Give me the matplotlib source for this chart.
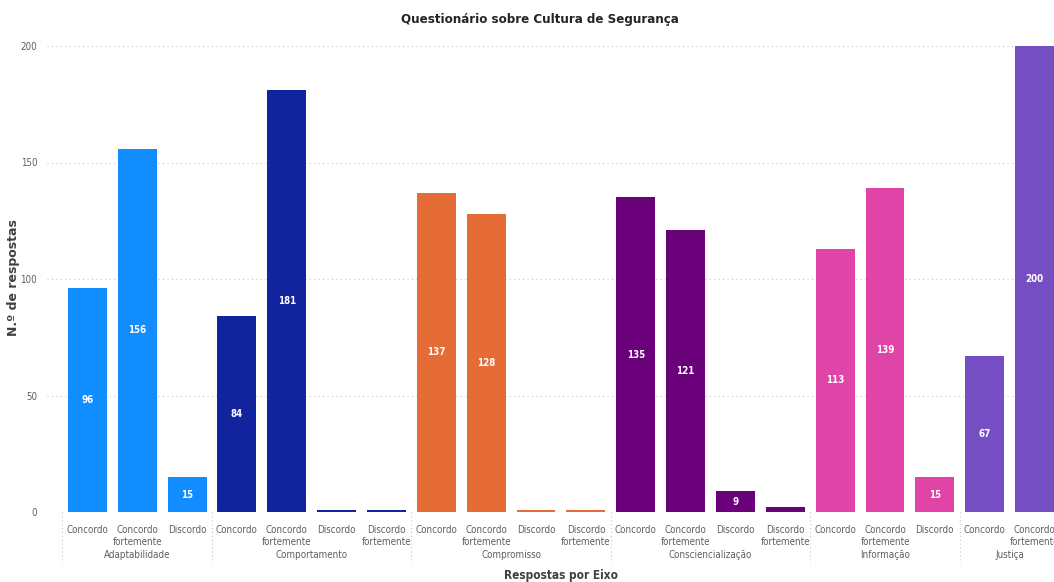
import matplotlib
matplotlib.use("Agg")
import matplotlib.pyplot as plt
import matplotlib.transforms as mtransforms

# Eixos do questionário e respostas em cada eixo
eixos = ["Adaptabilidade", "Comportamento", "Compromisso",
         "Consciencialização", "Informação", "Justiça"]
respostas = [
    ["Concordo", "Concordo\nfortemente", "Discordo"],
    ["Concordo", "Concordo\nfortemente", "Discordo", "Discordo\nfortemente"],
    ["Concordo", "Concordo\nfortemente", "Discordo", "Discordo\nfortemente"],
    ["Concordo", "Concordo\nfortemente", "Discordo", "Discordo\nfortemente"],
    ["Concordo", "Concordo\nfortemente", "Discordo"],
    ["Concordo", "Concordo\nfortemente"],
]
valores = [
    [96, 156, 15],
    [84, 181, 1, 1],
    [137, 128, 1, 1],
    [135, 121, 9, 2],
    [113, 139, 15],
    [67, 200],
]
cores = ["#118DFF", "#12239E", "#E66C37", "#6B007B", "#E044A7", "#744EC2"]

plt.rcParams["font.family"] = ["DejaVu Sans"]
plt.rcParams["font.stretch"] = "condensed"

fig = plt.figure(figsize=(10.54, 5.82), dpi=100)
ax = fig.add_axes([47 / 1054, 70 / 582, 1007 / 1054, 466 / 582])

trans = mtransforms.blended_transform_factory(ax.transData, ax.transAxes)
pos = 0
limites = [-0.5]
for eixo, resp, vals, cor in zip(eixos, respostas, valores, cores):
    xs = list(range(pos, pos + len(vals)))
    ax.bar(xs, vals, width=0.78, color=cor, zorder=3)
    for x, v, r in zip(xs, vals, resp):
        if v > 2:
            ax.text(x, v / 2, str(v), ha="center", va="center", color="white",
                    fontsize=7, fontweight="bold", zorder=4)
        ax.text(x, -0.028, r, transform=trans, ha="center", va="top",
                fontsize=7, color="#605E5C", linespacing=1.25)
    centro = (xs[0] + xs[-1]) / 2
    ax.text(centro, -0.082, eixo, transform=trans, ha="center", va="top",
            fontsize=7, color="#605E5C")
    pos += len(vals)
    limites.append(pos - 0.5)

# separadores verticais entre eixos
for b in limites[:-1]:
    ax.plot([b, b], [0, -0.11], transform=trans, clip_on=False,
            color="#C8C6C4", linestyle=(0, (1, 2.5)), linewidth=0.8)

ax.set_xlim(-0.81, 19.39)
ax.set_ylim(0, 200)
ax.set_yticks([0, 50, 100, 150, 200])
ax.set_xticks([])
ax.tick_params(axis="y", length=0, labelsize=7, labelcolor="#605E5C", pad=7)
ax.grid(axis="y", color="#C8C6C4", linestyle=(0, (1, 3)), linewidth=0.8, zorder=0)
ax.axhline(0, color="#C8C6C4", linestyle=(0, (1, 3)), linewidth=0.8, zorder=1)
for s in ax.spines.values():
    s.set_visible(False)

ax.set_ylabel("N.º de respostas", fontsize=9, fontweight="bold",
              color="#404040", fontstretch="normal", va="center")
ax.yaxis.set_label_coords((14 - 47) / 1007, (512 - 278) / 466)
fig.text(561 / 1054, 1 - 576 / 582, "Respostas por Eixo", ha="center",
         va="center", fontsize=8.5, fontweight="bold", color="#404040")
fig.text(540 / 1054, 1 - 19 / 582, "Questionário sobre Cultura de Segurança",
         ha="center", va="center", fontsize=9.5, fontweight="bold",
         color="#252423")

fig.savefig("out.png", dpi=100)
